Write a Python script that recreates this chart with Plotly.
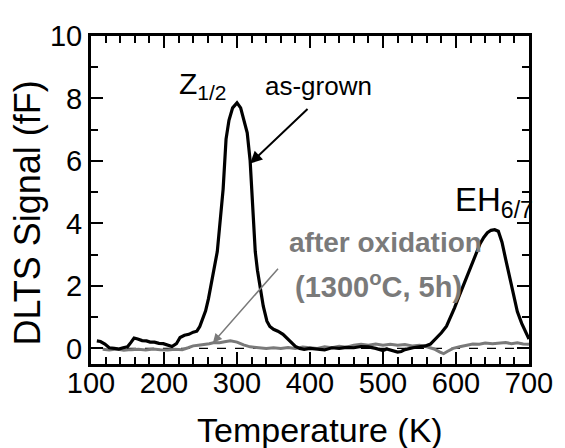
import plotly.graph_objects as go

# As-grown DLTS spectrum (black)
t_asgrown = [108, 113, 119, 125, 132, 138, 144, 150, 155, 159, 164, 170, 176, 181, 187, 193, 199, 205, 211, 217,
             222, 228, 234, 240, 245, 249, 253, 257, 261, 265, 269, 273, 277, 281, 285, 289, 294, 300, 305, 309,
             314, 318, 321, 323, 325, 328, 332, 336, 341, 345, 350, 356, 363, 370, 375, 380, 386, 392, 400, 410,
             420, 430, 440, 450, 460, 470, 480, 490, 500, 505, 510, 520, 525, 530, 541, 550, 558, 565, 572, 580,
             587, 593, 598, 603, 608, 613, 618, 623, 628, 633, 638, 643, 648, 653, 658, 663, 668, 673, 678, 684,
             690, 695, 700]
s_asgrown = [0.24, 0.22, 0.14, 0.02, 0.0, -0.02, 0.02, 0.05, 0.2, 0.33, 0.3, 0.25, 0.24, 0.2, 0.2, 0.16, 0.15, 0.1, 0.06, 0.15,
             0.35, 0.42, 0.45, 0.52, 0.55, 0.7, 0.95, 1.2, 1.6, 2.1, 2.6, 3.1, 4.1, 5.1, 6.7, 7.3, 7.7, 7.86, 7.7, 7.3,
             6.9, 6.0, 4.9, 4.0, 3.1, 2.5, 1.9, 1.35, 0.87, 0.7, 0.61, 0.55, 0.45, 0.3, 0.18, 0.06, 0.0, -0.03, 0.0, -0.02,
             -0.05, 0.02, 0.0, 0.03, 0.02, 0.06, 0.05, 0.0, -0.07, -0.02, -0.06, -0.12, -0.1, -0.04, 0.02, 0.05, 0.08, 0.14, 0.3, 0.5,
             0.71, 1.0, 1.3, 1.6, 1.9, 2.2, 2.5, 2.8, 3.07, 3.35, 3.55, 3.7, 3.78, 3.8, 3.75, 3.4, 2.86, 2.3, 1.8, 1.18,
             0.8, 0.55, 0.3]

# After oxidation (gray)
t_oxid = [116, 125, 135, 145, 155, 165, 175, 185, 195, 205, 215, 225, 233, 240, 247, 255, 262, 269, 276, 283,
          291, 300, 309, 318, 327, 340, 350, 360, 370, 380, 390, 400, 410, 420, 430, 440, 450, 460, 470, 480,
          490, 500, 510, 520, 530, 540, 550, 560, 570, 578, 583, 588, 596, 605, 615, 623, 632, 640, 650, 660,
          668, 676, 684, 692, 700]
s_oxid = [-0.03, -0.05, -0.02, -0.06, -0.04, -0.03, -0.05, -0.02, -0.04, -0.05, -0.03, -0.04, 0.02, 0.08, 0.1, 0.12, 0.15, 0.19, 0.18, 0.21,
          0.24, 0.2, 0.11, 0.05, 0.02, 0.0, 0.02, 0.0, 0.03, 0.0, 0.04, 0.03, 0.0, 0.05, 0.02, 0.07, 0.04, 0.1, 0.13, 0.1,
          0.14, 0.1, 0.13, 0.1, 0.12, 0.08, 0.1, 0.05, -0.02, -0.12, -0.17, -0.1, 0.0, 0.05, 0.1, 0.14, 0.13, 0.17, 0.15, 0.18,
          0.19, 0.15, 0.18, 0.14, 0.13]

x_ticks = [100, 200, 300, 400, 500, 600, 700]
y_ticks = [0, 2, 4, 6, 8, 10]

BLACK = "black"
GRAY = "rgb(122,122,122)"
FONT = "Liberation Sans, Arial, sans-serif"

fig = go.Figure()
fig.add_trace(go.Scatter(x=t_oxid, y=s_oxid, mode="lines",
                         line=dict(color=GRAY, width=3), showlegend=False))
fig.add_trace(go.Scatter(x=t_asgrown, y=s_asgrown, mode="lines",
                         line=dict(color=BLACK, width=3.2), showlegend=False))

fig.add_hline(y=0, line=dict(color="black", width=1.3, dash="dash"), layer="below")

axis_common = dict(
    showline=True, linecolor="black", linewidth=3, mirror="allticks",
    ticks="inside", ticklen=12, tickwidth=2, tickcolor="black",
    showgrid=False, zeroline=False,
    tickfont=dict(size=29, color="black", family=FONT),
)

fig.update_xaxes(range=[100, 700], tickvals=x_ticks, ticktext=[str(v) for v in x_ticks],
                 minor=dict(dtick=20, ticks="inside", ticklen=7, tickwidth=2, tickcolor="black", showgrid=False),
                 ticklabelstandoff=-9,
                 **axis_common)
fig.update_yaxes(range=[-0.5, 10], tickvals=y_ticks, ticktext=[str(v) for v in y_ticks],
                 minor=dict(dtick=1, ticks="inside", ticklen=7, tickwidth=2, tickcolor="black", showgrid=False),
                 **axis_common)

# axis titles
fig.add_annotation(x=0.522, y=-0.2, xref="paper", yref="paper", showarrow=False,
                   text="Temperature (K)", xanchor="center", yanchor="middle",
                   font=dict(size=34, color="black", family=FONT))
fig.add_annotation(x=-0.145, y=0.46, xref="paper", yref="paper", showarrow=False,
                   text="DLTS Signal (fF)", textangle=-90, xanchor="center", yanchor="middle",
                   font=dict(size=36, color="black", family=FONT))

annots = [
    dict(x=218, y=8.4, text="Z<sub>1/2</sub>", xanchor="left", yanchor="middle",
         font=dict(size=30, color="black", family=FONT)),
    dict(x=411, y=8.4, text="as-grown", xanchor="center", yanchor="middle",
         font=dict(size=26, color="black", family=FONT)),
    dict(x=698, y=4.7, xshift=7, text="EH<sub>6/7</sub>", xanchor="right", yanchor="middle",
         font=dict(size=33, color="black", family=FONT)),
    dict(x=504, y=3.38, text="<b>after oxidation</b>", xanchor="center", yanchor="middle",
         font=dict(size=28, color=GRAY, family=FONT)),
    dict(x=494, y=2.03, text="<b>(1300<sup>o</sup>C, 5h)</b>", xanchor="center", yanchor="middle",
         font=dict(size=29, color=GRAY, family=FONT)),
]
for a in annots:
    fig.add_annotation(showarrow=False, xref="x", yref="y", **a)

# arrows
fig.add_annotation(x=318, y=5.92, ax=398.7, ay=7.71, xref="x", yref="y", axref="x", ayref="y",
                   text="", showarrow=True, arrowhead=2, arrowsize=1.2, arrowwidth=2, arrowcolor="black")
fig.add_annotation(x=267, y=0.18, ax=358, ay=2.6, xref="x", yref="y", axref="x", ayref="y",
                   text="", showarrow=True, arrowhead=2, arrowsize=1.2, arrowwidth=1.5, arrowcolor=GRAY)

# page body has an 8px margin: shrink figure so it fits the 565x448 window exactly
fig.update_layout(
    width=557, height=440,
    margin=dict(l=83, r=28, t=21, b=84),
    paper_bgcolor="white", plot_bgcolor="white",
    font=dict(family=FONT, color="black"),
)

fig.write_html("out.html")
